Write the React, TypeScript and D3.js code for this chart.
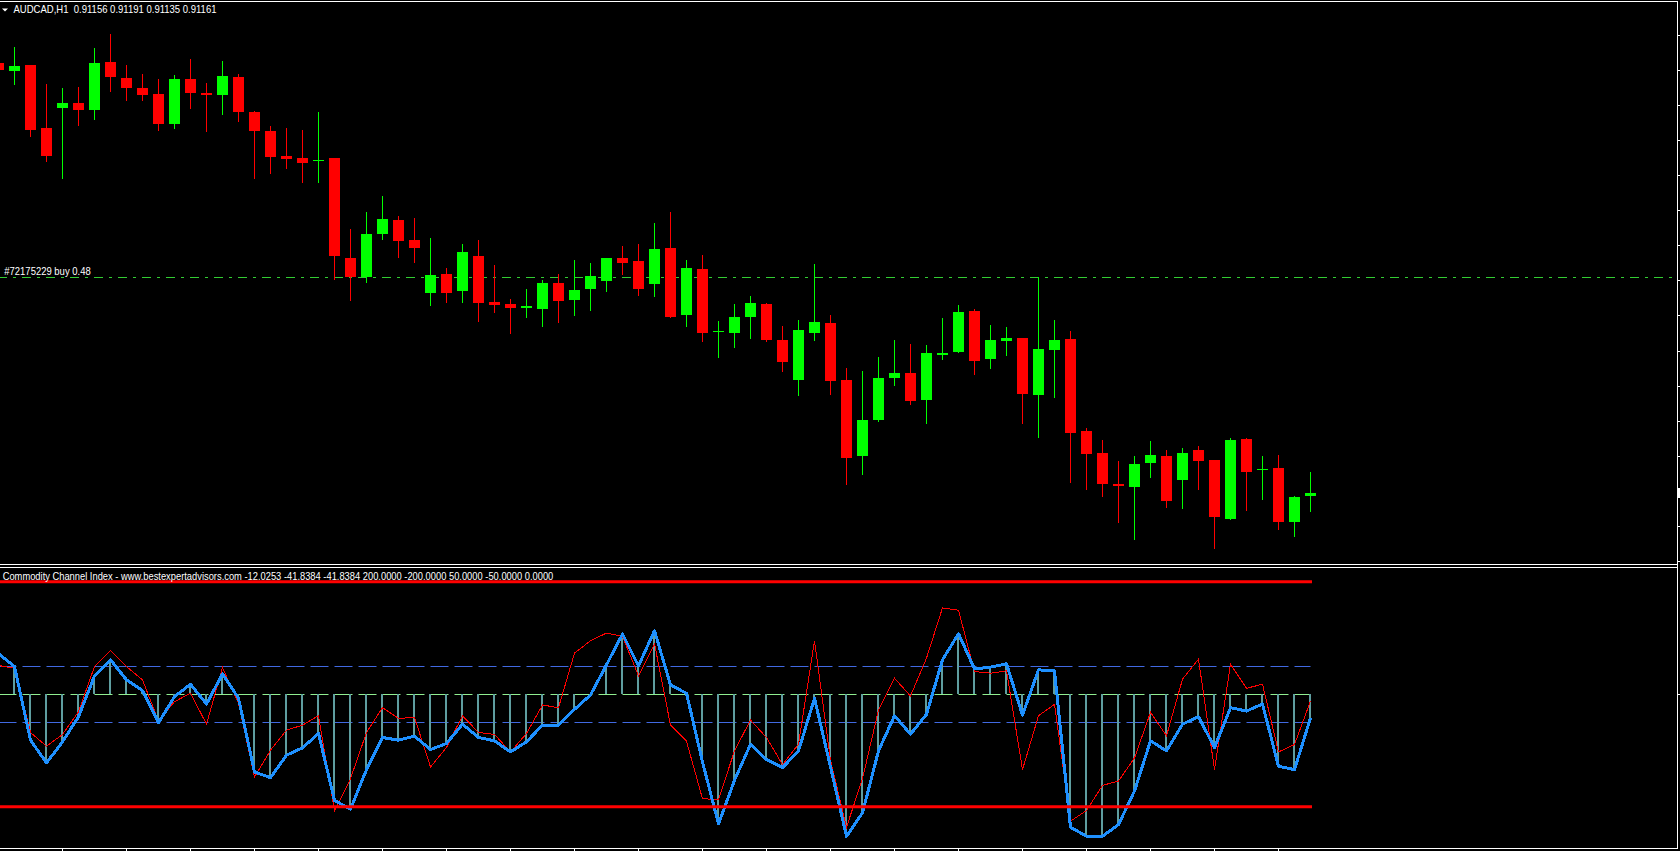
import React, { useEffect, useRef } from 'react';
import * as d3 from 'd3';

const W = 1680;
const H = 851;

// AUDCAD H1, first entry is the partly hidden candle at the left edge
const openPrices = [
	0.91773, 0.91762, 0.91771, 0.91681, 0.91709, 0.91717, 0.91706, 0.91775, 0.91752, 0.91738,
	0.91729, 0.91687, 0.91751, 0.91731, 0.91728, 0.91754, 0.91704, 0.91677, 0.91641, 0.91638,
	0.91633, 0.91638, 0.91496, 0.91468, 0.9153, 0.9155, 0.91521, 0.91445, 0.91473, 0.91448,
	0.91499, 0.91433, 0.9143, 0.91425, 0.91423, 0.9146, 0.91436, 0.91451, 0.91463, 0.91496,
	0.91491, 0.91459, 0.9151, 0.91415, 0.9148, 0.9139, 0.91389, 0.91412, 0.9143, 0.91379,
	0.91322, 0.91389, 0.91403, 0.91322, 0.91213, 0.91265, 0.91325, 0.91332, 0.91294, 0.91358,
	0.91362, 0.9142, 0.91352, 0.91377, 0.91382, 0.91301, 0.91365, 0.9138, 0.91249, 0.91218,
	0.91174, 0.9117, 0.91203, 0.91214, 0.9118, 0.91222, 0.91208, 0.91124, 0.91238, 0.91193,
	0.91197, 0.91119, 0.91156,
];
const highPrices = [
	0.91775, 0.91796, 0.91771, 0.91744, 0.91738, 0.91739, 0.91795, 0.91815, 0.91771, 0.91758,
	0.91751, 0.91756, 0.91779, 0.91745, 0.91776, 0.91758, 0.91705, 0.91684, 0.91681, 0.91678,
	0.91704, 0.91638, 0.91537, 0.91561, 0.91584, 0.91556, 0.91553, 0.91524, 0.91481, 0.91516,
	0.91521, 0.91486, 0.91437, 0.91452, 0.91464, 0.91473, 0.91493, 0.91489, 0.91496, 0.91513,
	0.91516, 0.91546, 0.91561, 0.91493, 0.915, 0.91406, 0.9143, 0.91442, 0.91432, 0.91399,
	0.91407, 0.91487, 0.91415, 0.91339, 0.91335, 0.91355, 0.91379, 0.91373, 0.91372, 0.9141,
	0.91429, 0.91423, 0.914, 0.91397, 0.91382, 0.91468, 0.91407, 0.91392, 0.91254, 0.91236,
	0.91207, 0.91214, 0.91235, 0.91222, 0.91225, 0.91228, 0.91208, 0.91239, 0.91239, 0.91214,
	0.91215, 0.91157, 0.91191,
];
const lowPrices = [
	0.91762, 0.91744, 0.9167, 0.91633, 0.9161, 0.91685, 0.91693, 0.91733, 0.9172, 0.91721,
	0.91678, 0.91681, 0.91709, 0.91677, 0.917, 0.9169, 0.9161, 0.91616, 0.91624, 0.91604,
	0.91604, 0.91466, 0.91436, 0.91462, 0.91523, 0.91497, 0.9149, 0.91428, 0.91433, 0.91433,
	0.91406, 0.91419, 0.91389, 0.91412, 0.91398, 0.91404, 0.91414, 0.91422, 0.91448, 0.91473,
	0.91443, 0.91441, 0.91411, 0.91399, 0.91377, 0.91355, 0.91369, 0.91381, 0.91378, 0.91334,
	0.913, 0.91379, 0.91302, 0.91174, 0.91188, 0.91264, 0.91315, 0.91287, 0.9126, 0.91352,
	0.91361, 0.91331, 0.91339, 0.91358, 0.9126, 0.91241, 0.91297, 0.91177, 0.91167, 0.91156,
	0.91119, 0.91096, 0.91183, 0.91141, 0.91139, 0.91166, 0.91082, 0.91124, 0.91136, 0.91153,
	0.9111, 0.91099, 0.91135,
];
const closePrices = [
	0.91764, 0.91769, 0.91678, 0.91641, 0.91717, 0.91707, 0.91773, 0.91753, 0.91738, 0.91728,
	0.91686, 0.91751, 0.91731, 0.91727, 0.91755, 0.91704, 0.91677, 0.9164, 0.91637, 0.91631,
	0.91635, 0.91498, 0.91469, 0.9153, 0.91551, 0.9152, 0.9151, 0.91472, 0.91445, 0.91504,
	0.91432, 0.91429, 0.91425, 0.91427, 0.9146, 0.91435, 0.9145, 0.9147, 0.91496, 0.91489,
	0.91452, 0.91509, 0.91412, 0.91481, 0.91389, 0.91392, 0.91412, 0.91432, 0.91379, 0.91347,
	0.91393, 0.91405, 0.9132, 0.91211, 0.91265, 0.91325, 0.91332, 0.91292, 0.9136, 0.9136,
	0.91419, 0.91349, 0.91379, 0.91382, 0.91302, 0.91366, 0.91379, 0.91247, 0.91216, 0.91173,
	0.91171, 0.91202, 0.91215, 0.91149, 0.91218, 0.91207, 0.91126, 0.91236, 0.91191, 0.91195,
	0.9112, 0.91155, 0.91161,
];

// CCI buffers: thin red line and thick blue line (histogram uses the blue values)
const cciSignal = [
	51.2, 46.4, -67.9, -92.3, -71.4, -31.0, 49.4, 78.0, 49.4, 25.6,
	-47.6, -13.1, 1.8, -53.0, 47.6, -16.1, -147.0, -99.4, -63.7, -54.8,
	-38.1, -207.7, -150.0, -67.9, -23.8, -42.9, -41.1, -129.2, -94.6, -38.1,
	-67.9, -71.4, -102.4, -69.6, -19.0, -23.8, 73.2, 95.2, 108.9, 103.0,
	32.7, 89.9, -54.8, -83.3, -185.7, -186.9, -100.6, -45.8, -76.8, -125.0,
	-88.7, 95.2, -117.3, -236.3, -150.0, -28.0, 28.6, -3.0, 64.3, 153.6,
	149.4, 40.5, 37.5, 41.7, -133.9, -38.1, -17.9, -225.6, -206.5, -161.9,
	-154.2, -113.1, -32.1, -73.8, 26.8, 62.5, -133.9, 53.6, 10.7, 17.9,
	-102.4, -89.3, -12.0253,
];
const cciMain = [
	72.0, 49.4, -81.5, -122.0, -84.5, -39.9, 32.7, 61.3, 25.6, 6.5,
	-50.6, -4.2, 17.9, -17.3, 36.3, -7.1, -138.1, -148.2, -108.3, -95.2,
	-69.6, -188.7, -204.2, -133.9, -76.8, -81.5, -74.4, -98.2, -87.5, -53.0,
	-76.8, -82.7, -102.4, -84.5, -54.8, -54.8, -26.8, -1.2, 52.4, 107.1,
	50.6, 113.1, 16.7, 1.8, -120.2, -230.4, -153.0, -88.7, -116.1, -130.4,
	-100.6, -7.1, -129.2, -252.4, -210.7, -100.6, -38.1, -70.8, -35.7, 61.3,
	107.7, 45.2, 48.2, 54.2, -36.9, 43.5, 41.7, -236.3, -252.4, -252.4,
	-231.5, -172.0, -82.7, -100.6, -53.0, -39.9, -94.6, -23.8, -29.8, -17.3,
	-128.0, -133.9, -41.8384,
];

const cciLevels = [200, -200, 50, -50, 0];
const priceTicks = [
	0.91813, 0.91763, 0.91713, 0.91663, 0.91613, 0.91563, 0.91513, 0.91463,
	0.91413, 0.91363, 0.91313, 0.91263, 0.91213, 0.91163, 0.91113, 0.91063,
];
const symbolLabel = 'AUDCAD,H1';
const orderLabel = '#72175229 buy 0.48';
const orderPrice = 0.91468;
const indicatorName = 'Commodity Channel Index - www.bestexpertadvisors.com';

const FONT = '"Liberation Sans", Arial, sans-serif';

const App: React.FC = () => {
	const svgRef = useRef<SVGSVGElement>(null);

	useEffect(() => {
		document.body.style.margin = '0';
		document.body.style.background = '#000';
		const svg = d3.select(svgRef.current);
		svg.selectAll('*').remove();

		svg.append('rect').attr('width', W).attr('height', H).attr('fill', '#000');

		const n = closePrices.length;
		const bars = closePrices.map((c, i) => ({
			k: i - 1,
			o: openPrices[i],
			h: highPrices[i],
			l: lowPrices[i],
			c,
		}));

		// bar centres sit on pixel columns 16 px apart
		const x = d3.scaleLinear().domain([-1, n - 2]).range([-1.5, 14.5 + 16 * (n - 2)]);
		const yP = d3.scaleLinear().domain([0.91059, 0.91863]).range([564.5, 0]);
		const yC = d3.scaleLinear().domain([-274.1, 225.4]).range([848.5, 567.5]);
		const crisp = (v: number) => Math.floor(v) + 0.5;
		// plain hyphen minus, as the terminal prints it
		const f5 = (v: number) => v.toFixed(5);
		const f4 = (v: number) => v.toFixed(4);

		// ---- main price panel
		const main = svg.append('g');
		const yOrder = crisp(yP(orderPrice));
		main
			.append('line')
			.attr('x1', 0)
			.attr('x2', 1677)
			.attr('y1', yOrder)
			.attr('y2', yOrder)
			.attr('stroke', '#32CD32')
			.attr('stroke-width', 1)
			.attr('stroke-dasharray', '9 6 3 6')
			.attr('stroke-dashoffset', 2);

		const candle = main
			.selectAll('g.candle')
			.data(bars)
			.enter()
			.append('g')
			.attr('class', 'candle')
			.attr('shape-rendering', 'crispEdges');
		const colorOf = (d: { o: number; c: number }) => (d.c >= d.o ? '#00FF00' : '#FF0000');
		candle
			.append('line')
			.attr('x1', (d) => x(d.k))
			.attr('x2', (d) => x(d.k))
			.attr('y1', (d) => Math.round(yP(d.h)))
			.attr('y2', (d) => Math.round(yP(d.l)) + 1)
			.attr('stroke', colorOf)
			.attr('stroke-width', 1);
		candle
			.append('rect')
			.attr('x', (d) => x(d.k) - 5.5)
			.attr('width', 11)
			.attr('y', (d) => Math.round(yP(Math.max(d.o, d.c))))
			.attr('height', (d) =>
				Math.max(1, Math.round(yP(Math.min(d.o, d.c))) - Math.round(yP(Math.max(d.o, d.c))))
			)
			.attr('fill', colorOf);

		const last = bars[n - 1];
		svg
			.append('path')
			.attr('d', 'M2,8.5 L8,8.5 L5,11.5 Z')
			.attr('fill', '#fff');
		svg
			.append('text')
			.attr('x', 13.5)
			.attr('y', 13)
			.attr('font-family', FONT)
			.attr('font-size', 10.5)
			.attr('fill', '#fff')
			.style('white-space', 'pre')
			.attr('textLength', 203)
			.attr('lengthAdjust', 'spacingAndGlyphs')
			.text(`${symbolLabel}  ${f5(last.o)} ${f5(last.h)} ${f5(last.l)} ${f5(last.c)}`);

		svg
			.append('text')
			.attr('x', 4.3)
			.attr('y', 275)
			.attr('font-family', FONT)
			.attr('font-size', 10.5)
			.attr('fill', '#fff')
			.attr('textLength', 86.4)
			.attr('lengthAdjust', 'spacingAndGlyphs')
			.text(orderLabel);

		// ---- CCI panel
		const cci = svg.append('g');
		const xStart = x(-1);
		const xEnd = x(n - 2);
		const levelColor = (v: number) => (v === 0 ? '#90EE90' : '#4169E1');
		cciLevels
			.filter((v) => Math.abs(v) < 100)
			.forEach((v) => {
				cci
					.append('line')
					.attr('x1', xStart)
					.attr('x2', xEnd)
					.attr('y1', crisp(yC(v)))
					.attr('y2', crisp(yC(v)))
					.attr('stroke', levelColor(v))
					.attr('stroke-width', 1)
					.attr('stroke-dasharray', '18 6');
			});

		cci
			.selectAll('line.hist')
			.data(cciMain)
			.enter()
			.append('line')
			.attr('class', 'hist')
			.attr('x1', (_, i) => x(i - 1) - 0.5)
			.attr('x2', (_, i) => x(i - 1) - 0.5)
			.attr('y1', yC(0))
			.attr('y2', (d) => yC(d))
			.attr('stroke', '#5F9EA0')
			.attr('stroke-width', 2)
			.attr('shape-rendering', 'crispEdges');

		const line = d3
			.line<number>()
			.x((_, i) => x(i - 1))
			.y((d) => yC(d));
		cci
			.append('path')
			.attr('d', line(cciSignal) as string)
			.attr('fill', 'none')
			.attr('stroke', '#FF0000')
			.attr('stroke-width', 1)
			.attr('shape-rendering', 'crispEdges');
		cci
			.append('path')
			.attr('d', line(cciMain) as string)
			.attr('fill', 'none')
			.attr('stroke', '#1E90FF')
			.attr('stroke-width', 3)
			.attr('stroke-linejoin', 'round')
			.attr('shape-rendering', 'crispEdges');

		cciLevels
			.filter((v) => Math.abs(v) >= 100)
			.forEach((v) => {
				cci
					.append('line')
					.attr('x1', xStart)
					.attr('x2', xEnd)
					.attr('y1', yC(v))
					.attr('y2', yC(v))
					.attr('stroke', '#FF0000')
					.attr('stroke-width', 3)
					.attr('stroke-linecap', 'square');
			});

		const lastMain = cciMain[n - 1];
		const title = [
			indicatorName,
			f4(cciSignal[n - 1]),
			f4(lastMain),
			f4(lastMain),
			...cciLevels.map((v) => f4(v)),
		].join(' ');
		svg
			.append('text')
			.attr('x', 2.7)
			.attr('y', 580)
			.attr('font-family', FONT)
			.attr('font-size', 10.5)
			.attr('fill', '#fff')
			.attr('textLength', 550.6)
			.attr('lengthAdjust', 'spacingAndGlyphs')
			.text(title);

		// ---- frame, separators and axis ticks
		const frame = svg
			.append('g')
			.attr('stroke', '#fff')
			.attr('stroke-width', 1)
			.attr('shape-rendering', 'crispEdges');
		[1.5, 564.5, 567.5, 848.5].forEach((yy) => {
			frame.append('line').attr('x1', 0).attr('x2', 1678).attr('y1', yy).attr('y2', yy);
		});
		frame.append('line').attr('x1', 1677.5).attr('x2', 1677.5).attr('y1', 1).attr('y2', 849);

		priceTicks.forEach((p) => {
			frame
				.append('line')
				.attr('x1', 1677)
				.attr('x2', 1680)
				.attr('y1', crisp(yP(p)))
				.attr('y2', crisp(yP(p)));
		});
		frame
			.append('line')
			.attr('x1', 1677)
			.attr('x2', 1680)
			.attr('y1', crisp(yC(0)))
			.attr('y2', crisp(yC(0)));
		d3.range(3, n - 1, 4).forEach((k) => {
			frame.append('line').attr('x1', x(k)).attr('x2', x(k)).attr('y1', 848).attr('y2', 851);
		});
		// current price marker on the axis
		svg
			.append('rect')
			.attr('x', 1678)
			.attr('y', Math.round(yP(last.c)) - 5)
			.attr('width', 2)
			.attr('height', 10)
			.attr('fill', '#fff');
	}, []);

	return (
		<svg
			ref={svgRef}
			width={W}
			height={H}
			style={{ position: 'absolute', left: 0, top: 0, display: 'block' }}
		/>
	);
};

export default App;
